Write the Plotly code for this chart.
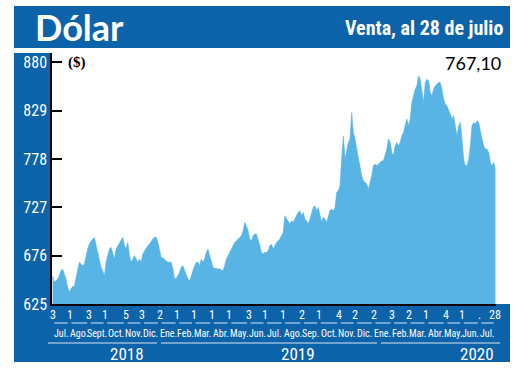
import pandas as pd
import plotly.graph_objects as go

# ---------------- data ----------------
start_date = "2018-07-03"
end_date = "2020-07-28"
values = [
    654.9, 647.9, 649.6, 651.4, 654.9, 660.2, 661.9, 656.7, 651.4, 642.6,
    637.3, 640.8, 643.6, 643.6, 651.4, 661.9, 669.0, 667.2, 665.4, 667.2,
    676.0, 683.0, 688.3, 691.8, 693.6, 695.4, 686.5, 677.8, 669.0, 663.7,
    660.2, 654.9, 669.0, 677.8, 683.0, 684.8, 677.8, 672.5, 683.0, 686.5,
    690.1, 693.6, 695.4, 686.5, 683.0, 690.1, 676.0, 669.0, 672.5, 676.0,
    672.5, 669.0, 672.5, 669.0, 677.8, 681.2, 683.0, 686.5, 688.3, 691.8,
    693.6, 695.4, 695.4, 690.1, 683.0, 674.2, 673.5, 672.5, 670.7, 669.0,
    669.0, 669.0, 661.9, 651.4, 652.0, 654.9, 658.4, 663.7, 665.4, 660.2,
    654.9, 651.4, 649.6, 654.9, 661.9, 665.4, 669.0, 669.0, 665.4, 672.5,
    669.0, 672.5, 679.5, 683.0, 676.0, 669.0, 663.7, 662.7, 661.9, 661.9,
    661.9, 661.0, 660.2, 665.4, 672.5, 676.0, 679.5, 683.0, 686.5, 690.1,
    691.8, 693.6, 695.4, 697.1, 702.4, 711.2, 707.6, 702.4, 693.6, 691.8,
    697.1, 698.9, 698.9, 693.6, 686.5, 679.5, 677.8, 679.5, 679.5, 681.2,
    686.5, 688.3, 683.0, 686.5, 690.1, 691.8,
    693.6, 697.1, 700.6, 718.2, 714.7, 711.2, 709.4, 712.9, 711.2, 714.7,
    718.2, 721.7, 723.4, 718.2, 721.7, 714.7, 712.9, 709.4, 714.7, 721.7,
    727.0, 728.7, 723.4, 727.0, 718.2, 711.2, 716.5, 714.7, 711.2, 718.2,
    723.4, 725.2, 723.4, 727.0, 742.8, 744.5, 749.8, 778.0, 802.6, 778.0,
    788.5, 795.6, 799.1, 827.2, 806.1, 799.1, 788.5, 778.0, 767.4, 760.4,
    755.1, 753.4, 751.6, 746.3, 753.4, 760.4, 770.9, 772.7, 770.9, 772.7,
    774.5, 776.2, 776.2, 781.5, 788.5, 799.1, 795.6, 785.0, 781.5, 792.0,
    795.6, 792.0, 795.6, 802.6, 806.1, 813.1, 820.2, 813.1, 820.2, 837.8,
    844.8, 851.8, 855.3, 865.9, 862.4, 848.3, 837.8, 858.9, 862.4, 860.6,
    848.3, 844.8, 851.8, 855.3, 857.1, 858.9, 858.9, 851.8, 841.3, 836.0,
    834.2, 830.7, 825.5, 820.2, 823.7, 813.1, 802.6, 813.1, 816.7, 799.1,
    778.0, 770.9, 770.9, 778.0, 792.0, 813.1, 816.7, 814.9, 818.4, 816.7,
    806.1, 799.1, 792.0, 788.5, 788.5, 785.0, 774.5, 770.9, 774.5, 767.1,
]
y_ticks = [625, 676, 727, 778, 829, 880]
day_dates = ["2018-07-03", "2018-08-01", "2018-09-03", "2018-10-01", "2018-11-05",
             "2018-12-03", "2019-01-02", "2019-02-01", "2019-03-01", "2019-04-01",
             "2019-05-01", "2019-06-03", "2019-07-01", "2019-08-01", "2019-09-02",
             "2019-10-01", "2019-11-04", "2019-12-02", "2020-01-02", "2020-02-03",
             "2020-03-02", "2020-04-01", "2020-05-04", "2020-06-01", "2020-07-01",
             "2020-07-28"]
day_labels = ["3", "1", "3", "1", "5", "3", "2", "1", "1", "1", "1", "3", "1",
              "1", "2", "1", "4", "2", "2", "3", "2", "1", "4", "1", ".", "28"]
month_labels = ["Jul.", "Ago.", "Sept.", "Oct.", "Nov.", "Dic.",
                "Ene.", "Feb.", "Mar.", "Abr.", "May.", "Jun.", "Jul.", "Ago.",
                "Sep.", "Oct.", "Nov.", "Dic.",
                "Ene.", "Feb.", "Mar.", "Abr.", "May.", "Jun.", "Jul."]
year_labels = ["2018", "2019", "2020"]
title_text = "Dólar"
subtitle_text = "Venta, al 28 de julio"
unit_text = "($)"
last_text = "767,10"

# ---------------- styling ----------------
BLUE = "#0d63aa"
AREA = "#57b4e4"
COND = ("Roboto Condensed, Noto Sans ExtraCondensed, Noto Sans Condensed, "
        "Liberation Sans Narrow, DejaVu Sans Condensed, sans-serif")
W, H = 520, 390
L, R, T, B = 52, 496, 53, 304


def px(x):
    return (x - L) / (R - L)


def py(y):
    return (B - y) / (B - T)


dates = pd.date_range(start_date, end_date, periods=len(values))

fig = go.Figure()
fig.add_trace(go.Scatter(
    x=dates, y=values, mode="lines", fill="tozeroy",
    fillcolor=AREA, line=dict(color=AREA, width=0.6), hoverinfo="skip"))

shapes = []
shapes.append(dict(type="rect", xref="paper", yref="paper", x0=px(14), x1=px(510),
                   y0=py(48), y1=py(6), fillcolor=BLUE, line=dict(width=0), layer="below"))
shapes.append(dict(type="rect", xref="paper", yref="paper", x0=px(14), x1=px(51),
                   y0=py(362), y1=py(53), fillcolor=BLUE, line=dict(width=0), layer="below"))
shapes.append(dict(type="rect", xref="paper", yref="paper", x0=px(14), x1=px(510),
                   y0=py(362), y1=py(304), fillcolor=BLUE, line=dict(width=0), layer="below"))

d = pd.to_datetime(day_dates)
for i in range(len(d) - 1):
    shapes.append(dict(type="line", xref="x", yref="paper",
                       x0=d[i] + pd.Timedelta(days=3), x1=d[i + 1] - pd.Timedelta(days=3),
                       y0=py(323), y1=py(323), line=dict(color="#d8e6f3", width=1)))
for x0, x1 in [(48, 157), (161, 377), (381, 500)]:
    shapes.append(dict(type="line", xref="paper", yref="paper", x0=px(x0), x1=px(x1),
                       y0=py(343), y1=py(343), line=dict(color="#d8e6f3", width=1)))

ann = []
ann.append(dict(text=f"<b>{title_text}</b>", x=px(33), y=py(27), xref="paper", yref="paper",
                xanchor="left", yanchor="middle", showarrow=False,
                font=dict(family="Lato, Open Sans, sans-serif", size=36, color="white")))
ann.append(dict(text=f"<b>{subtitle_text}</b>", x=px(505), y=py(28), xref="paper", yref="paper",
                xanchor="right", yanchor="middle", showarrow=False,
                font=dict(family=COND, size=20, color="white")))
ann.append(dict(text=f"<b>{unit_text}</b>", x=px(66), y=py(63), xref="paper", yref="paper",
                xanchor="left", yanchor="middle", showarrow=False,
                font=dict(family="Liberation Serif, serif", size=15, color="black")))
ann.append(dict(text=last_text, x=px(503), y=py(63), xref="paper", yref="paper",
                xanchor="right", yanchor="middle", showarrow=False,
                font=dict(family="Lato, Open Sans, sans-serif", size=18, color="black")))
for dd, lab in zip(d, day_labels):
    ann.append(dict(text=lab, x=dd, y=py(315), xref="x", yref="paper",
                    xanchor="center", yanchor="middle", showarrow=False,
                    font=dict(family=COND, size=12, color="white")))
for i, lab in enumerate(month_labels):
    mid = d[i] + (d[i + 1] - d[i]) / 2
    ann.append(dict(text=lab, x=mid, y=py(333), xref="x", yref="paper",
                    xanchor="center", yanchor="middle", showarrow=False,
                    font=dict(family=COND, size=10, color="white")))
for xx, lab in zip([127, 298, 477], year_labels):
    ann.append(dict(text=lab, x=px(xx), y=py(354), xref="paper", yref="paper",
                    xanchor="center", yanchor="middle", showarrow=False,
                    font=dict(family=COND, size=17, color="white")))

fig.update_layout(
    width=W, height=H,
    margin=dict(l=L, r=W - R, t=T, b=H - B),
    paper_bgcolor="white", plot_bgcolor="white",
    showlegend=False,
    shapes=shapes, annotations=ann,
    xaxis=dict(range=["2018-07-02", "2020-07-29"], showgrid=False, zeroline=False,
               showticklabels=False, ticks="", showline=True, linecolor="black",
               linewidth=1.5),
    yaxis=dict(range=[625, 890], tickvals=y_ticks, ticktext=[str(v) for v in y_ticks],
               showgrid=False, zeroline=False, ticks="inside", ticklen=10,
               tickwidth=2, tickcolor="black", showline=True, linecolor="black",
               linewidth=1.5, tickfont=dict(family=COND, size=16, color="white")),
)

fig.write_html("out.html", config={"displayModeBar": False},
               post_script="document.body.style.margin='0';")
